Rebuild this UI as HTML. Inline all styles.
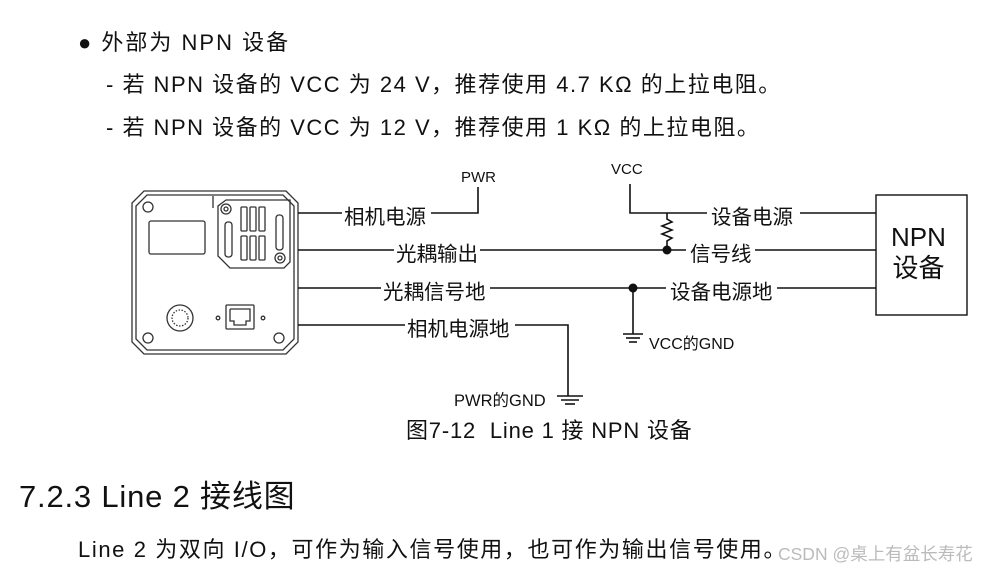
<!DOCTYPE html>
<html><head><meta charset="utf-8"><style>
html,body{margin:0;padding:0;background:#fff;}
body{width:981px;height:571px;overflow:hidden;position:relative;font-family:"Liberation Sans","Noto Sans CJK SC",sans-serif;color:#111;}
.t{position:absolute;white-space:nowrap;}
.l{font-size:20.5px;background:#fff;}
</style></head><body>
<div class="t" style="left:78px;top:25px;font-size:22px;letter-spacing:2px;">●&nbsp;外部为 NPN 设备</div>
<div class="t" style="left:106px;top:67px;font-size:22px;letter-spacing:1.5px;">- 若 NPN 设备的 VCC 为 24 V，推荐使用 4.7 KΩ 的上拉电阻。</div>
<div class="t" style="left:106px;top:110px;font-size:22px;letter-spacing:1.5px;">- 若 NPN 设备的 VCC 为 12 V，推荐使用 1 KΩ 的上拉电阻。</div>

<svg style="position:absolute;left:0;top:0" width="981" height="571">
<g fill="none" stroke="#333" stroke-width="1.3">
<polygon points="144,191 286,191 298,203 298,342 286,354 144,354 132,342 132,203"/>
<polygon points="147,195 283,195 294,206 294,339 283,350 147,350 136,339 136,206"/>
<circle cx="148" cy="207" r="5"/><circle cx="148" cy="338" r="5"/><circle cx="279" cy="338" r="5"/>
<rect x="149" y="221" width="56" height="33" rx="2"/>
<polygon points="226,200 290,200 290,262 284,268 230,268 218,256 218,206"/>
<line x1="213" y1="196" x2="213" y2="208"/>
<circle cx="226" cy="209" r="5"/><circle cx="226" cy="209" r="2"/>
<circle cx="280" cy="258" r="5"/><circle cx="280" cy="258" r="2"/>
<rect x="241" y="207" width="6" height="24" rx="1"/><rect x="250" y="207" width="6" height="24" rx="1"/><rect x="259" y="207" width="6" height="24" rx="1"/>
<rect x="241" y="236" width="6" height="24" rx="1"/><rect x="250" y="236" width="6" height="24" rx="1"/><rect x="259" y="236" width="6" height="24" rx="1"/>
<rect x="225" y="222" width="7" height="35" rx="3"/><rect x="276" y="215" width="7" height="35" rx="3"/>
<circle cx="180" cy="318" r="13"/><circle cx="180" cy="318" r="8" stroke-dasharray="1.5 1.5"/>
<rect x="226" y="305" width="28" height="24" rx="1"/>
<polyline points="230,309 250,309 250,321 246,321 246,325 234,325 234,321 230,321 230,309"/>
<circle cx="218" cy="318" r="1.8"/><circle cx="263" cy="318" r="1.8"/>
</g>
<g stroke="#111" stroke-width="1.6" fill="none">
<line x1="298" y1="213" x2="342" y2="213"/>
<polyline points="431,213 478,213 478,187"/>
<line x1="298" y1="250" x2="394" y2="250"/>
<line x1="480" y1="250" x2="686" y2="250"/>
<line x1="755" y1="250" x2="876" y2="250"/>
<line x1="298" y1="288" x2="381" y2="288"/>
<line x1="490" y1="288" x2="666" y2="288"/>
<line x1="777" y1="288" x2="876" y2="288"/>
<line x1="298" y1="325" x2="405" y2="325"/>
<polyline points="515,325 568,325 568,396"/>
<line x1="557" y1="396" x2="583" y2="396"/><line x1="561" y1="400" x2="579" y2="400"/><line x1="565" y1="404" x2="575" y2="404"/>
<polyline points="630,184 630,213 707,213"/>
<line x1="800" y1="213" x2="876" y2="213"/>
<polyline points="667,213 667,219 672,222 662,226 672,230 662,234 672,238 667,241 667,250"/>
<line x1="633" y1="288" x2="633" y2="334"/>
<line x1="623" y1="334" x2="643" y2="334"/><line x1="626" y1="338" x2="640" y2="338"/><line x1="629" y1="342" x2="637" y2="342"/>
<rect x="876" y="195" width="91" height="120" stroke-width="1.4"/>
</g>
<circle cx="667" cy="250" r="4.5" fill="#111"/><circle cx="633" cy="288" r="4.5" fill="#111"/>
</svg>

<div class="t" style="left:461px;top:169px;font-size:15px;">PWR</div>
<div class="t" style="left:611px;top:161px;font-size:15px;">VCC</div>
<div class="t l" style="left:344px;top:200px;">相机电源</div>
<div class="t l" style="left:396px;top:237px;">光耦输出</div>
<div class="t l" style="left:383px;top:275px;">光耦信号地</div>
<div class="t l" style="left:407px;top:312px;">相机电源地</div>
<div class="t l" style="left:711px;top:200px;">设备电源</div>
<div class="t l" style="left:690px;top:237px;">信号线</div>
<div class="t l" style="left:670px;top:275px;">设备电源地</div>
<div class="t" style="left:649px;top:330px;font-size:16px;">VCC的GND</div>
<div class="t" style="left:454px;top:387px;font-size:16.5px;">PWR的GND</div>
<div class="t" style="left:891px;top:222px;font-size:26px;line-height:31px;text-align:center;">NPN<br>设备</div>
<div class="t" style="left:406px;top:413px;font-size:22px;letter-spacing:0.8px;">图7-12&nbsp; Line 1 接 NPN 设备</div>
<div class="t" style="left:19px;top:471px;font-size:31px;letter-spacing:0.8px;">7.2.3 Line 2 接线图</div>
<div class="t" style="left:78px;top:532px;font-size:22px;letter-spacing:1.6px;">Line 2 为双向 I/O，可作为输入信号使用，也可作为输出信号使用。</div>
<div class="t" style="left:778px;top:541px;font-size:17.5px;color:#bbb;">CSDN @桌上有盆长寿花</div>
</body></html>
